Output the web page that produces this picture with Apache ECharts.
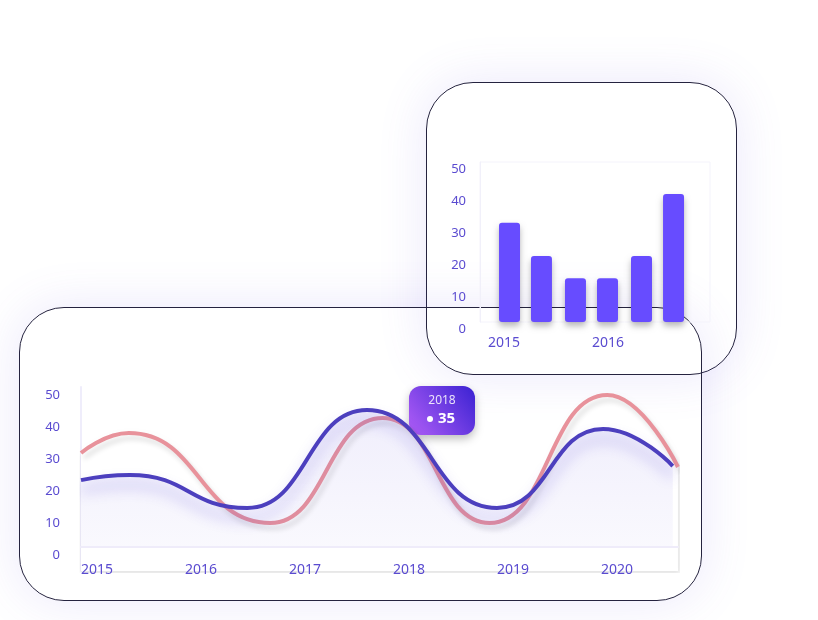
<!DOCTYPE html>
<html>
<head>
<meta charset="utf-8">
<script src="https://cdn.jsdelivr.net/npm/echarts@6/dist/echarts.min.js"></script>
<style>
  html, body { margin: 0; padding: 0; background: #fff; width: 818px; height: 620px; overflow: hidden; }
  .card { position: absolute; box-sizing: border-box; border: 1px solid #25233f; background: transparent;
          box-shadow: 0 0 50px rgba(110, 90, 230, 0.14); }
  #cardBar { left: 426px; top: 82px; width: 311px; height: 293px; border-radius: 47px; }
  #cardLine { left: 19px; top: 307px; width: 683px; height: 294px; border-radius: 45px; }
  #chart { position: absolute; left: 0; top: 0; width: 818px; height: 620px; }
</style>
</head>
<body>
<div class="card" id="cardBar"></div>
<div class="card" id="cardLine"></div>
<div id="chart"></div>
<script>
// ---- data ----
const lineTickYears = [2015, 2016, 2017, 2018, 2019, 2020];
const lineTickValues = [0, 10, 20, 30, 40, 50];
const pinkX = [2015.0, 2015.46, 2016.82, 2017.9, 2018.93, 2020.06, 2020.74];
const pinkY = [29.4, 35.6, 7.5, 40.3, 7.5, 47.5, 25];
const blueX = [2015.0, 2015.47, 2016.6, 2017.75, 2019.0, 2020.02, 2020.69];
const blueY = [20.9, 22.5, 12.2, 42.8, 12.2, 36.9, 25.3];

const barTickYears = [2015, 2016];
const barX = [2015.207, 2015.514, 2015.841, 2016.149, 2016.476, 2016.784];
const barY = [31, 20.6, 13.7, 13.7, 20.6, 40];

const tipYear = 2018;
const tipValue = 35;

// ---- styles ----
const labelColor = '#5a4bd0';
const font = 'Noto Sans';

const chart = echarts.init(document.getElementById('chart'), null, { renderer: 'canvas' });

const pairs = (xs, ys) => xs.map((x, i) => [x, ys[i]]);

chart.setOption({
  animation: false,
  backgroundColor: 'transparent',
  grid: [
    { left: 480, top: 162, width: 230, height: 160, show: true, borderColor: '#f4f3fb', borderWidth: 1, backgroundColor: 'transparent' },
    { left: 81, top: 387, width: 597, height: 184 }
  ],
  xAxis: [
    {
      gridIndex: 0, type: 'value', min: 2015 - 8 / 104, max: 2015 - 8 / 104 + 230 / 104,
      axisLine: { show: false }, axisTick: { show: false }, splitLine: { show: false },
      axisLabel: { customValues: barTickYears, formatter: v => String(Math.round(v)), align: 'left',
        color: labelColor, fontFamily: font, fontSize: 14, margin: 14 }
    },
    {
      gridIndex: 1, type: 'value', min: 2015, max: 2015 + 597 / 104, offset: -24,
      axisLine: { show: true, onZero: false, lineStyle: { color: '#efecfa', width: 2 } },
      axisTick: { show: false }, splitLine: { show: false },
      axisLabel: { customValues: lineTickYears, formatter: v => String(Math.round(v)), align: 'left',
        color: labelColor, fontFamily: font, fontSize: 14, margin: 16 },
      z: 10
    }
  ],
  yAxis: [
    {
      gridIndex: 0, type: 'value', min: 0, max: 50, interval: 10,
      axisLine: { show: true, lineStyle: { color: '#f1f0fa', width: 1 } },
      axisTick: { show: false }, splitLine: { show: false },
      axisLabel: { color: labelColor, fontFamily: font, fontSize: 13, margin: 14, verticalAlign: 'top', lineHeight: 14 }
    },
    {
      gridIndex: 1, type: 'value', min: -7.5, max: 50,
      axisLine: { show: true, lineStyle: { color: '#efedfb', width: 2 } },
      axisTick: { show: false }, splitLine: { show: false },
      axisLabel: { customValues: lineTickValues, color: labelColor, fontFamily: font, fontSize: 13, margin: 21,
        verticalAlign: 'top', lineHeight: 16 }
    }
  ],
  series: [
    {
      type: 'bar', xAxisIndex: 0, yAxisIndex: 0, barWidth: 21,
      data: pairs(barX, barY),
      itemStyle: { color: '#674cff', borderRadius: 3, shadowColor: 'rgba(0,0,0,0.28)', shadowBlur: 6, shadowOffsetY: 4 },
      z: 5
    },
    {
      type: 'line', xAxisIndex: 1, yAxisIndex: 1, smooth: 0.5, smoothMonotone: 'x',
      showSymbol: false, data: pairs(pinkX, pinkY),
      lineStyle: { color: '#e8929b', width: 4, shadowColor: 'rgba(0,0,0,0.12)', shadowBlur: 5, shadowOffsetX: 3, shadowOffsetY: 5 },
      areaStyle: { color: '#ffffff', opacity: 1, origin: 'start',
        shadowColor: 'rgba(0,0,0,0.12)', shadowBlur: 6, shadowOffsetX: 2, shadowOffsetY: 3 },
      z: 3
    },
    {
      type: 'line', xAxisIndex: 1, yAxisIndex: 1, smooth: 0.5, smoothMonotone: 'x',
      showSymbol: false, data: pairs(blueX, blueY),
      lineStyle: { color: '#4c3fbe', width: 4, shadowColor: 'rgba(80,60,210,0.38)', shadowBlur: 14, shadowOffsetY: 10 },
      areaStyle: {
        origin: 0,
        color: new echarts.graphic.LinearGradient(0, 0, 0, 1, [
          { offset: 0, color: 'rgba(100,82,222,0.14)' },
          { offset: 1, color: 'rgba(100,82,222,0.05)' }
        ])
      },
      z: 4
    }
  ]
});

// callout anchored to its data value
const p = chart.convertToPixel({ xAxisIndex: 1, yAxisIndex: 1 }, [tipYear, tipValue]);
const boxW = 66, boxH = 49;
chart.setOption({
  graphic: [
    {
      type: 'group', x: p[0] + 16, y: p[1] - boxH, z: 100,
      children: [
        {
          type: 'rect', shape: { x: 0, y: 0, width: boxW, height: boxH, r: 12 },
          style: {
            fill: new echarts.graphic.LinearGradient(0, 1, 1, 0, [
              { offset: 0, color: '#b15ef7' },
              { offset: 1, color: '#3a22d2' }
            ]),
            shadowColor: 'rgba(0,0,0,0.25)', shadowBlur: 8, shadowOffsetY: 4
          }
        },
        {
          type: 'text', x: boxW / 2, y: 15,
          style: { text: String(tipYear), fill: 'rgba(255,255,255,0.85)', font: '12px "Noto Sans"', align: 'center', verticalAlign: 'middle' }
        },
        {
          type: 'circle', shape: { cx: 21, cy: 33, r: 3 }, style: { fill: '#fff' }
        },
        {
          type: 'text', x: 29, y: 33,
          style: { text: String(tipValue), fill: '#fff', font: 'bold 15px "Noto Sans"', align: 'left', verticalAlign: 'middle' }
        }
      ]
    }
  ]
});
</script>
</body>
</html>
